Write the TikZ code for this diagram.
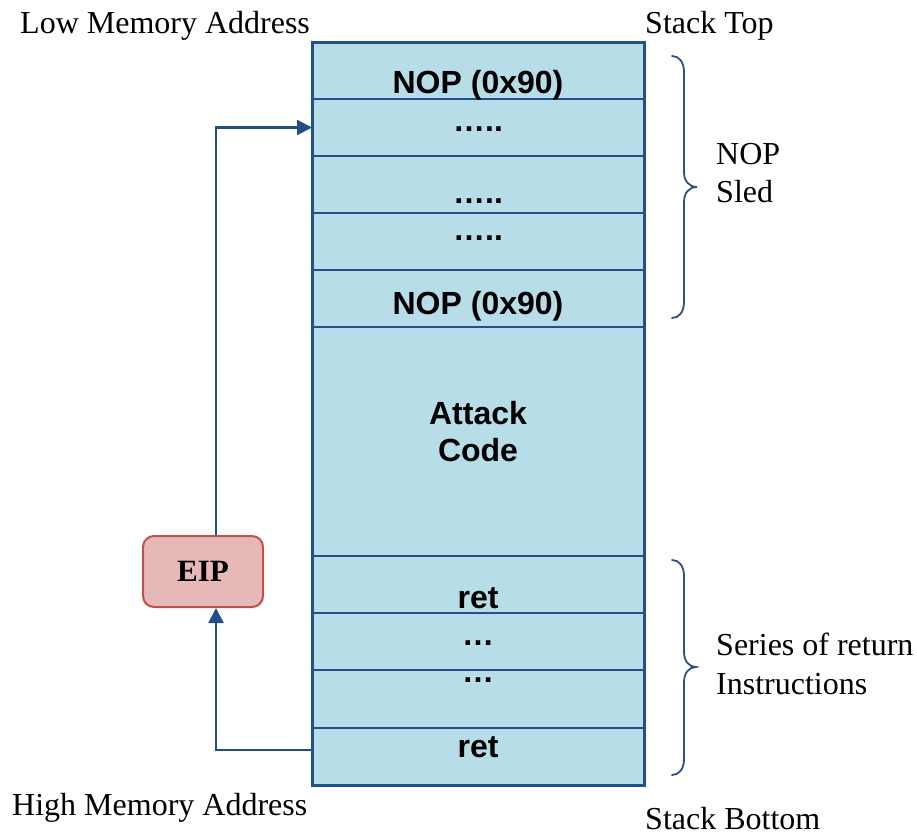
\documentclass[tikz,border=0pt]{standalone}
\usepackage{fontspec}
\setmainfont{Liberation Serif}
\newfontfamily\cellfont{Liberation Sans}
\usetikzlibrary{arrows.meta}

\definecolor{cellfill}{HTML}{B7DDE8}
\definecolor{cellline}{HTML}{23508A}
\definecolor{arrowblue}{HTML}{1F4E89}
\definecolor{bracecol}{HTML}{2E5180}
\definecolor{eipfill}{HTML}{E6B9B8}
\definecolor{eipline}{HTML}{C0504D}

\begin{document}
\begin{tikzpicture}[x=1pt,y=-1pt,
  cell/.style={draw=cellline, fill=cellfill, line width=2.2pt,
    minimum width=332pt, minimum height=57pt, inner sep=0pt, outer sep=0pt},
  celltext/.style={font=\cellfont\bfseries\fontsize{32}{37}\selectfont,
    anchor=base, inner sep=0pt},
  note/.style={font=\fontsize{32}{37}\selectfont, anchor=base west, inner sep=0pt},
  jump/.style={draw=arrowblue, line width=2.4pt,
    -{Triangle[length=15pt,width=15pt]}},
  curly/.style={draw=bracecol, line width=1.8pt, line cap=round},
  eipbox/.style={draw=eipline, fill=eipfill, line width=2pt, rounded corners=11pt,
    minimum width=120pt, minimum height=71pt, inner sep=0pt,
    font=\bfseries\fontsize{31}{36}\selectfont}
]
\useasboundingbox (0,0) rectangle (917,835);

% stack cells, top (low address) to bottom (high address)
\node[cell] (n1) at (478,70.5) {};
\node[cell] (n2) at (478,127.5) {};
\node[cell] (n3) at (478,184.5) {};
\node[cell] (n4) at (478,241.5) {};
\node[cell] (n5) at (478,298.5) {};
\node[cell, minimum height=229pt] (code) at (478,441.5) {};
\node[cell] (r1) at (478,584.5) {};
\node[cell] (r2) at (478,641.5) {};
\node[cell, minimum height=58pt] (r3) at (478,699) {};
\node[cell] (r4) at (478,756.5) {};
\draw[draw=cellline, line width=3pt] (n1.north west) rectangle (r4.south east);

% cell contents
\node[celltext] (t1) at (478,93) {NOP (0x90)};
\node[celltext] (t2) at (478,131) {…..};
\node[celltext] (t3) at (478,203) {…..};
\node[celltext] (t4) at (478,240) {…..};
\node[celltext] (t5) at (478,314) {NOP (0x90)};
\node[celltext] (ta) at (478,424) {Attack};
\node[celltext] (tb) at (478,461) {Code};
\node[celltext] (tr1) at (478,608) {ret};
\node[celltext] (tr2) at (478,645) {…};
\node[celltext] (tr3) at (478,682) {…};
\node[celltext] (tr4) at (478,757) {ret};

% side labels
\node[note] (low) at (20,33) {Low Memory Address};
\node[note] (top) at (645,33) {Stack Top};
\node[note] (high) at (12,815) {High Memory Address};
\node[note] (bottom) at (645,829) {Stack Bottom};
\node[note] (sled1) at (716,164) {NOP};
\node[note] (sled2) at (716,202) {Sled};
\node[note] (ser1) at (716,655) {Series of return};
\node[note] (ser2) at (716,694) {Instructions};

% instruction pointer
\node[eipbox] (eip) at (203,571.5) {EIP};

% control flow: ret -> EIP -> into the sled
\draw[jump] ([yshift=6.5pt]r4.west) -| ([xshift=13pt]eip.south);
\draw[jump] ([xshift=13pt]eip.north) |- (n2.west);

% braces
\draw[curly] (672,56) .. controls (679,56) and (684,62) .. (684,72)
  -- (684,172) .. controls (684,181) and (689,187) .. (697,187)
  .. controls (689,187) and (684,193) .. (684,202)
  -- (684,302) .. controls (684,312) and (679,318) .. (672,318);
\draw[curly] (672,560) .. controls (679,560) and (684,566) .. (684,576)
  -- (684,652) .. controls (684,661) and (689,667) .. (696,667)
  .. controls (689,667) and (684,673) .. (684,682)
  -- (684,759) .. controls (684,769) and (679,775) .. (672,775);
\end{tikzpicture}
\end{document}
